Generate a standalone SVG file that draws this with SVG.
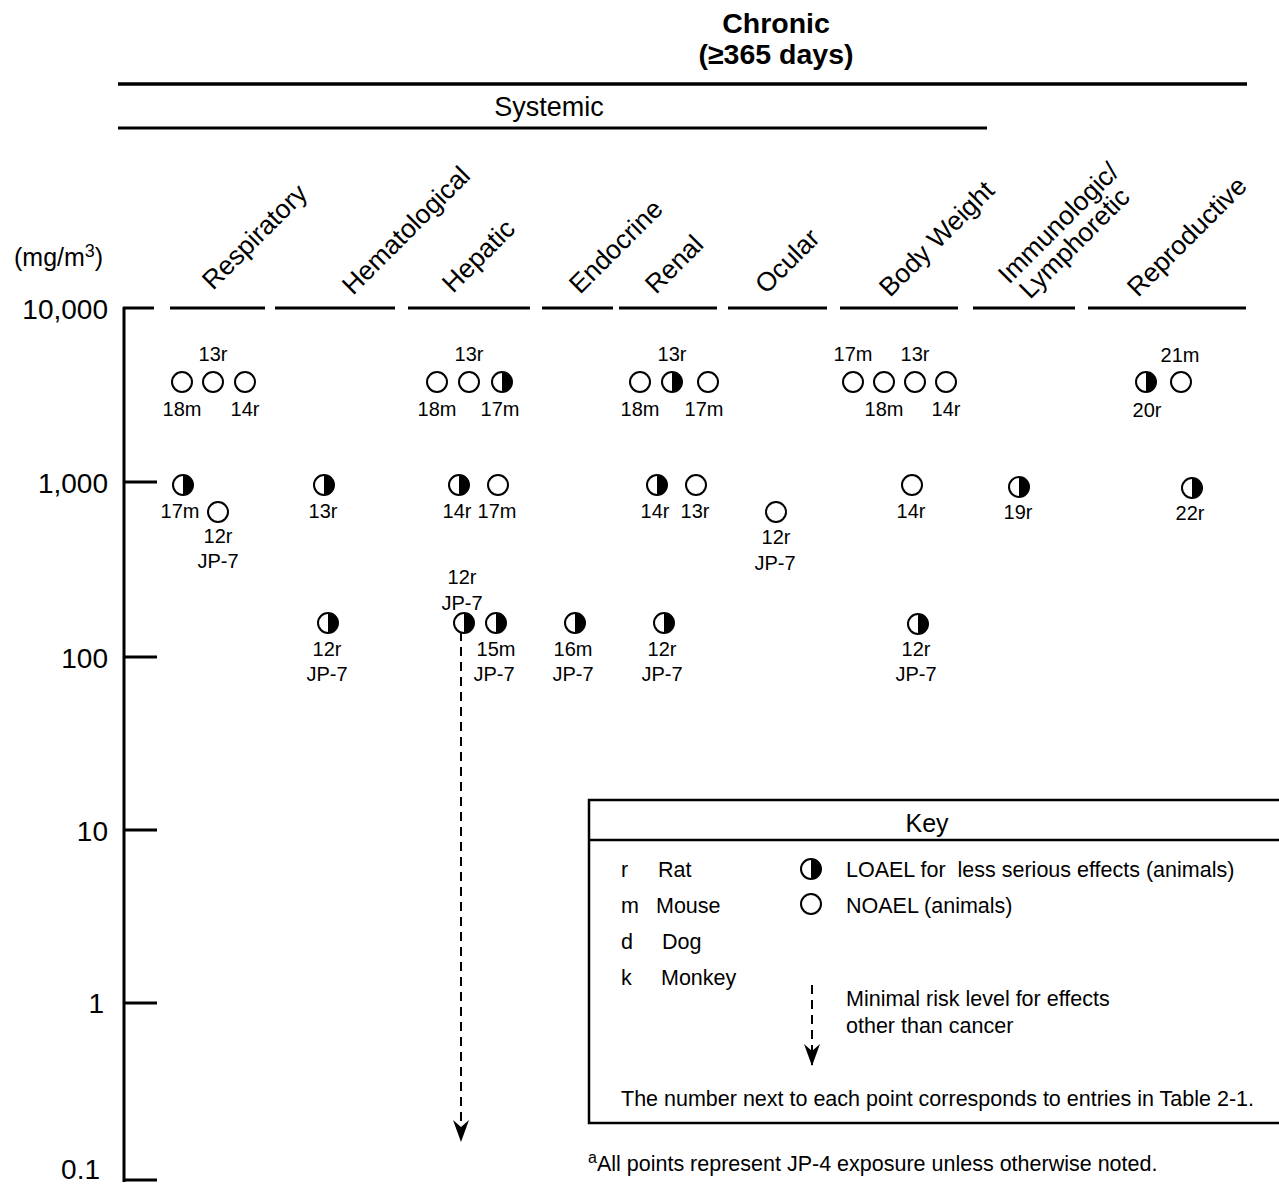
<svg xmlns="http://www.w3.org/2000/svg" xmlns:xlink="http://www.w3.org/1999/xlink" width="1279" height="1185" viewBox="0 0 1279 1185">
<style>
text{font-family:"Liberation Sans",Arial,sans-serif;fill:#000}
.t{font-size:20px;text-anchor:middle}
.ax{font-size:28px;text-anchor:end}
.hd{font-size:26.5px}
.k{font-size:21.5px}
.rule{stroke:#000;fill:none}
.o{fill:#fff;stroke:#000;stroke-width:2}
</style>
<defs>
<g id="open"><circle r="10" class="o"/></g>
<g id="half"><circle r="10" class="o"/><path d="M0,-10 A10,10 0 0 1 0,10 Z" fill="#000"/></g>
<marker id="ah" viewBox="0 0 22 16" refX="21" refY="8" markerWidth="22" markerHeight="16" markerUnits="userSpaceOnUse" orient="auto">
<path d="M0,0 L7,8 L0,16 L22,8 Z" fill="#000"/>
</marker>
</defs>
<rect width="1279" height="1185" fill="#fff"/>

<g id="header">
<text x="776" y="33" font-size="28.5" font-weight="bold" text-anchor="middle">Chronic</text>
<text x="776" y="64" font-size="28.5" font-weight="bold" text-anchor="middle">(≥365 days)</text>
<line x1="118" y1="84" x2="1247" y2="84" class="rule" stroke-width="3.5"/>
<text x="549" y="116" font-size="27" text-anchor="middle">Systemic</text>
<line x1="118" y1="128" x2="987" y2="128" class="rule" stroke-width="3"/>
</g>

<g id="axis">
<text x="14" y="266" font-size="25">(mg/m<tspan font-size="18" dy="-9">3</tspan><tspan dy="9">)</tspan></text>
<line x1="124" y1="307" x2="124" y2="1182" class="rule" stroke-width="3"/>
<line x1="123" y1="308" x2="154" y2="308" class="rule" stroke-width="3"/>
<line x1="124" y1="482" x2="157" y2="482" class="rule" stroke-width="3"/>
<line x1="124" y1="657" x2="157" y2="657" class="rule" stroke-width="3"/>
<line x1="124" y1="830" x2="157" y2="830" class="rule" stroke-width="3"/>
<line x1="124" y1="1003" x2="157" y2="1003" class="rule" stroke-width="3"/>
<line x1="123" y1="1180" x2="157" y2="1180" class="rule" stroke-width="3"/>
<text x="108" y="319" class="ax">10,000</text>
<text x="108" y="493" class="ax">1,000</text>
<text x="108" y="668" class="ax">100</text>
<text x="108" y="841" class="ax">10</text>
<text x="104" y="1013" class="ax">1</text>
<text x="100" y="1179" class="ax">0.1</text>
</g>

<g id="columns">
<g stroke="#000" stroke-width="3">
<line x1="170" y1="308" x2="265" y2="308"/>
<line x1="275" y1="308" x2="395" y2="308"/>
<line x1="408" y1="308" x2="530" y2="308"/>
<line x1="542" y1="308" x2="613" y2="308"/>
<line x1="619" y1="308" x2="717" y2="308"/>
<line x1="728" y1="308" x2="827" y2="308"/>
<line x1="840" y1="308" x2="958" y2="308"/>
<line x1="973" y1="308" x2="1075" y2="308"/>
<line x1="1088" y1="308" x2="1246" y2="308"/>
</g>
<text class="hd" transform="translate(213,291) rotate(-45)">Respiratory</text>
<text class="hd" transform="translate(353,296) rotate(-45)">Hematological</text>
<text class="hd" transform="translate(453,294) rotate(-45)">Hepatic</text>
<text class="hd" transform="translate(580,295) rotate(-45)">Endocrine</text>
<text class="hd" transform="translate(656,295) rotate(-45)">Renal</text>
<text class="hd" transform="translate(766,295) rotate(-45)">Ocular</text>
<text class="hd" transform="translate(890,298) rotate(-45)">Body Weight</text>
<text class="hd" transform="translate(1009,285) rotate(-45)">Immunologic/</text>
<text class="hd" transform="translate(1030,300) rotate(-45)">Lymphoretic</text>
<text class="hd" transform="translate(1138,298) rotate(-45)">Reproductive</text>
</g>

<g id="connectors">
<line x1="461" y1="632" x2="461" y2="1141" stroke="#000" stroke-width="2" stroke-dasharray="9,6" marker-end="url(#ah)"/>
</g>

<g id="respiratory">
<use xlink:href="#open" x="182" y="382"/><use xlink:href="#open" x="213" y="382"/><use xlink:href="#open" x="245" y="382"/>
<text x="213" y="361" class="t">13r</text><text x="182" y="416" class="t">18m</text><text x="245" y="416" class="t">14r</text>
<use xlink:href="#half" x="183" y="485"/><text x="180" y="518" class="t">17m</text>
<use xlink:href="#open" x="218" y="512"/><text x="218" y="543" class="t">12r</text><text x="218" y="568" class="t">JP-7</text>
</g>
<g id="hematological">
<use xlink:href="#half" x="324" y="485"/><text x="323" y="518" class="t">13r</text>
<use xlink:href="#half" x="328" y="623"/><text x="327" y="656" class="t">12r</text><text x="327" y="681" class="t">JP-7</text>
</g>
<g id="hepatic">
<use xlink:href="#open" x="437" y="382"/><use xlink:href="#open" x="469" y="382"/><use xlink:href="#half" x="502" y="382"/>
<text x="469" y="361" class="t">13r</text><text x="437" y="416" class="t">18m</text><text x="500" y="416" class="t">17m</text>
<use xlink:href="#half" x="459" y="485"/><use xlink:href="#open" x="498" y="485"/>
<text x="457" y="518" class="t">14r</text><text x="497" y="518" class="t">17m</text>
<text x="462" y="584" class="t">12r</text><text x="462" y="610" class="t">JP-7</text>
<use xlink:href="#half" x="464" y="623"/>
<use xlink:href="#half" x="496" y="623"/><text x="496" y="656" class="t">15m</text><text x="494" y="681" class="t">JP-7</text>
</g>
<g id="endocrine">
<use xlink:href="#half" x="575" y="623"/><text x="573" y="656" class="t">16m</text><text x="573" y="681" class="t">JP-7</text>
</g>
<g id="renal">
<use xlink:href="#open" x="640" y="382"/><use xlink:href="#half" x="672" y="382"/><use xlink:href="#open" x="708" y="382"/>
<text x="672" y="361" class="t">13r</text><text x="640" y="416" class="t">18m</text><text x="704" y="416" class="t">17m</text>
<use xlink:href="#half" x="657" y="485"/><use xlink:href="#open" x="696" y="485"/>
<text x="655" y="518" class="t">14r</text><text x="695" y="518" class="t">13r</text>
<use xlink:href="#half" x="664" y="623"/><text x="662" y="656" class="t">12r</text><text x="662" y="681" class="t">JP-7</text>
</g>
<g id="ocular">
<use xlink:href="#open" x="776" y="512"/><text x="776" y="544" class="t">12r</text><text x="775" y="570" class="t">JP-7</text>
</g>
<g id="bodyweight">
<use xlink:href="#open" x="853" y="382"/><use xlink:href="#open" x="884" y="382"/><use xlink:href="#open" x="915" y="382"/><use xlink:href="#open" x="946" y="382"/>
<text x="853" y="361" class="t">17m</text><text x="915" y="361" class="t">13r</text>
<text x="884" y="416" class="t">18m</text><text x="946" y="416" class="t">14r</text>
<use xlink:href="#open" x="912" y="485"/><text x="911" y="518" class="t">14r</text>
<use xlink:href="#half" x="918" y="624"/><text x="916" y="656" class="t">12r</text><text x="916" y="681" class="t">JP-7</text>
</g>
<g id="immunologic">
<use xlink:href="#half" x="1019" y="487"/><text x="1018" y="519" class="t">19r</text>
</g>
<g id="reproductive">
<use xlink:href="#half" x="1146" y="382"/><use xlink:href="#open" x="1181" y="382"/>
<text x="1180" y="362" class="t">21m</text><text x="1147" y="417" class="t">20r</text>
<use xlink:href="#half" x="1192" y="488"/><text x="1190" y="520" class="t">22r</text>
</g>

<g id="key">
<rect x="589" y="800" width="720" height="323" fill="none" stroke="#000" stroke-width="2.5"/>
<line x1="589" y1="840" x2="1279" y2="840" stroke="#000" stroke-width="2.5"/>
<text x="927" y="832" font-size="25" text-anchor="middle">Key</text>
<text x="621" y="877" class="k">r</text><text x="658" y="877" class="k">Rat</text>
<text x="621" y="913" class="k">m</text><text x="656" y="913" class="k">Mouse</text>
<text x="621" y="949" class="k">d</text><text x="662" y="949" class="k">Dog</text>
<text x="621" y="985" class="k">k</text><text x="661" y="985" class="k">Monkey</text>
<use xlink:href="#half" x="811" y="869"/><text x="846" y="877" class="k" style="white-space:pre">LOAEL for  less serious effects (animals)</text>
<use xlink:href="#open" x="811" y="904"/><text x="846" y="913" class="k">NOAEL (animals)</text>
<line x1="812" y1="985" x2="812" y2="1065" stroke="#000" stroke-width="2" stroke-dasharray="9,6" marker-end="url(#ah)"/>
<text x="846" y="1006" class="k">Minimal risk level for effects</text>
<text x="846" y="1033" class="k">other than cancer</text>
<text x="621" y="1106" class="k">The number next to each point corresponds to entries in Table 2-1.</text>
</g>
<g id="footnote">
<text x="588" y="1171" class="k"><tspan font-size="16" dy="-8">a</tspan><tspan dy="8">All points represent JP-4 exposure unless otherwise noted.</tspan></text>
</g>
</svg>
